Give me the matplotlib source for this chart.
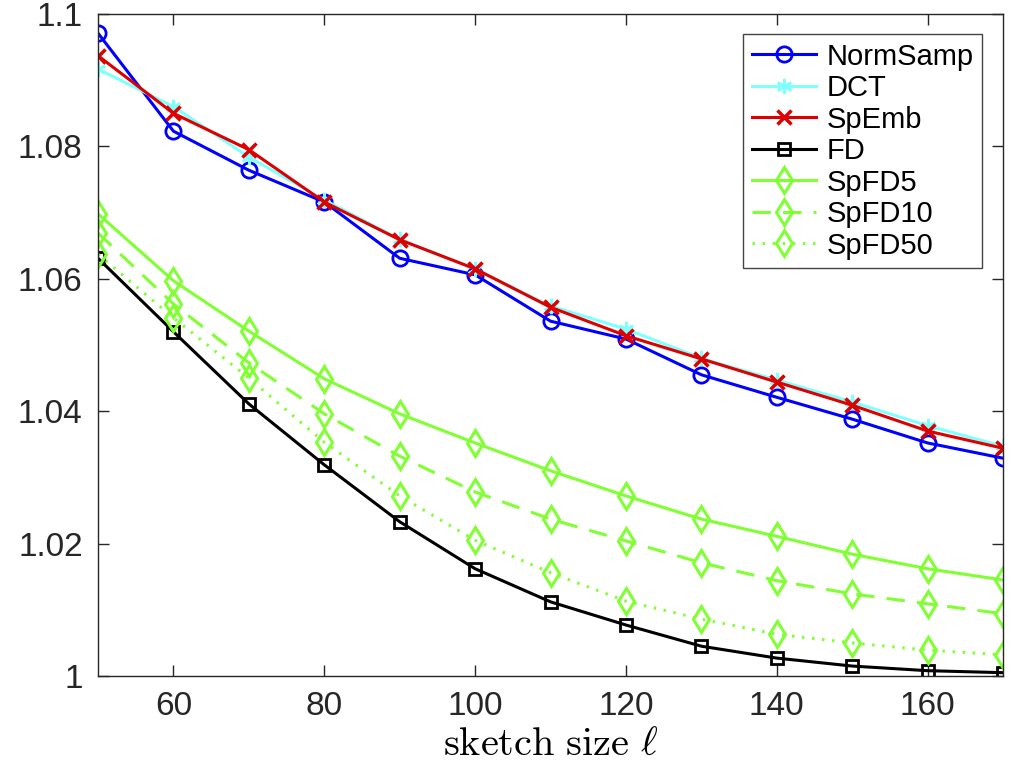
import matplotlib
matplotlib.use("Agg")
import matplotlib.pyplot as plt

plt.rcParams["font.family"] = ["Liberation Sans", "DejaVu Sans"]
plt.rcParams["mathtext.fontset"] = "cm"

# Données
taille = [50, 60, 70, 80, 90, 100, 110, 120, 130, 140, 150, 160, 170]

normsamp = [1.0971, 1.0823, 1.0764, 1.0716, 1.0631, 1.0606, 1.0536, 1.0509,
            1.0455, 1.0421, 1.0388, 1.0352, 1.0329]
dct = [1.0917, 1.0860, 1.0784, 1.0719, 1.0660, 1.0615, 1.0559, 1.0524,
       1.0480, 1.0447, 1.0414, 1.0378, 1.0347]
spemb = [1.0937, 1.0850, 1.0795, 1.0716, 1.0659, 1.0615, 1.0557, 1.0514,
         1.0479, 1.0444, 1.0409, 1.0370, 1.0344]
fd = [1.0631, 1.0520, 1.0411, 1.0319, 1.0233, 1.0162, 1.0112, 1.0077,
      1.0045, 1.0027, 1.0015, 1.0008, 1.0005]
spfd5 = [1.0698, 1.0597, 1.0521, 1.0449, 1.0396, 1.0352, 1.0310, 1.0272,
         1.0237, 1.0211, 1.0184, 1.0162, 1.0145]
spfd10 = [1.0669, 1.0562, 1.0473, 1.0396, 1.0332, 1.0278, 1.0237, 1.0204,
          1.0171, 1.0144, 1.0124, 1.0109, 1.0094]
spfd50 = [1.0637, 1.0541, 1.0450, 1.0353, 1.0272, 1.0205, 1.0156, 1.0113,
          1.0086, 1.0063, 1.0050, 1.0039, 1.0032]

xticks = [60, 80, 100, 120, 140, 160]
yticks = [1.0, 1.02, 1.04, 1.06, 1.08, 1.1]
ylabels = ["1", "1.02", "1.04", "1.06", "1.08", "1.1"]

vert = "#80FF33"

fig = plt.figure(figsize=(10.2, 7.7), dpi=100)
ax = fig.add_axes([0.0961, 0.1221, 0.8873, 0.8597])

lw = 2.2
ax.plot(taille, normsamp, color="#0000FF", marker="o", ms=11, mew=2, mfc="none",
        lw=lw, label="NormSamp")
ax.plot(taille, dct, color="#80FFFF", marker=(6, 2, 0), ms=11, mew=2,
        lw=lw, label="DCT")
ax.plot(taille, spemb, color="#DD0000", marker="x", ms=10, mew=2.5,
        lw=lw, label="SpEmb")
ax.plot(taille, fd, color="black", marker="s", ms=8, mew=2, mfc="none",
        lw=lw, label="FD")
ax.plot(taille, spfd5, color=vert, marker="d", ms=13, mew=2.2, mfc="none",
        lw=lw, label="SpFD5")
ax.plot(taille, spfd10, color=vert, marker="d", ms=13, mew=2.2, mfc="none",
        lw=lw, ls=(0, (6, 4)), label="SpFD10")
ax.plot(taille, spfd50, color=vert, marker="d", ms=13, mew=2.2, mfc="none",
        lw=lw, ls=(0, (0.8, 2.5)), label="SpFD50")

ax.set_xlim(50, 170)
ax.set_ylim(1.0, 1.1)
ax.set_xticks(xticks)
ax.set_yticks(yticks)
ax.set_yticklabels(ylabels)
ax.tick_params(direction="in", top=True, right=True, length=8, width=1,
               labelsize=24, colors="#262626", pad=11)
for s in ax.spines.values():
    s.set_color("#262626")
    s.set_linewidth(1)

ax.set_xlabel(r"$\mathrm{sketch\ size}\ \ell$", fontsize=29, labelpad=2)

leg = ax.legend(loc="upper right", bbox_to_anchor=(0.977, 0.970),
                borderaxespad=0, fontsize=21, fancybox=False,
                edgecolor="#444444", framealpha=1, handlelength=2.2,
                handletextpad=0.35, labelspacing=0.12, borderpad=0.3)
leg.get_frame().set_linewidth(1)

plt.savefig("out.png", dpi=100)
